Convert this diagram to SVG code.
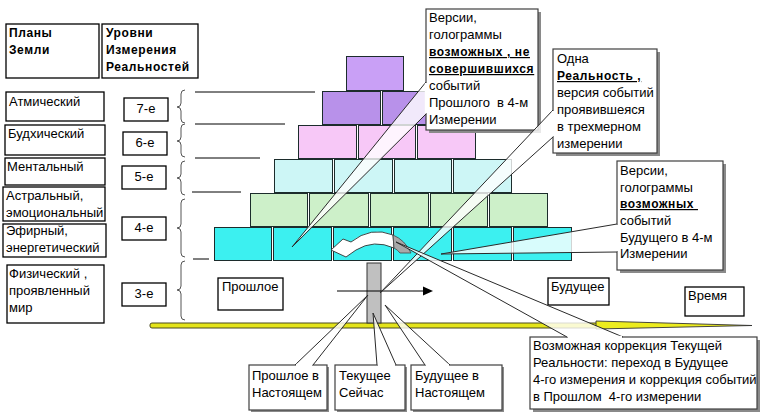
<svg xmlns="http://www.w3.org/2000/svg" width="763" height="415" viewBox="0 0 763 415">
<style>
.t{font-family:"Liberation Sans",Arial,sans-serif;font-size:13px;fill:#000;white-space:pre}
.b{font-weight:bold;font-size:12px;letter-spacing:0.6px}
.u{text-decoration:underline}
.box{fill:#fff;stroke:#000;stroke-width:1.3}
.cb{fill:#fff;stroke:#404040;stroke-width:1.2}
.sh{fill:#8a8a8a}
.wf{fill:#fff;fill-opacity:0.8;stroke:none}
.we{fill:none;stroke:#2a2a2a;stroke-width:1}
.gap{stroke:#fff;stroke-width:2.4}
.brace{fill:none;stroke:#555;stroke-width:1}
.hl{stroke:#000;stroke-width:1}
.blk{stroke:#1c2c2c;stroke-width:1}
.r1{fill:#c9a0f6}.r2{fill:#b891ea}.r3{fill:#f7c8f7}.r4{fill:#cdf6f6}.r5{fill:#cdf0c9}.r6{fill:#3cf0f0}
</style>
<rect width="763" height="415" fill="#fff"/>

<!-- Left column headers -->
<g id="hdr-plans"><rect class="box" x="6" y="24" width="93" height="54"/>
<text class="t b" x="9" y="37">Планы</text><text class="t b" x="9" y="54">Земли</text></g>
<g id="hdr-levels"><rect class="box" x="102" y="24" width="96" height="54"/>
<text class="t b" x="106" y="37">Уровни</text><text class="t b" x="106" y="54">Измерения</text><text class="t b" x="106" y="71">Реальностей</text></g>

<g id="plan-atm"><rect class="box" x="6" y="92" width="98" height="29"/><text class="t" x="9" y="106">Атмический</text></g>
<g id="plan-bud"><rect class="box" x="5" y="125" width="100" height="30"/><text class="t" x="8" y="138">Будхический</text></g>
<g id="plan-men"><rect class="box" x="5" y="158" width="100" height="27"/><text class="t" x="7" y="171">Ментальный</text></g>
<g id="plan-astr"><rect class="box" x="3" y="187" width="102" height="34"/><text class="t" x="6" y="200">Астральный,</text><text class="t" x="6" y="217">эмоциональный</text></g>
<g id="plan-eth"><rect class="box" x="3" y="224" width="103" height="33"/><text class="t" x="6" y="235">Эфирный,</text><text class="t" x="6" y="252">энергетический</text></g>
<g id="plan-phys"><rect class="box" x="7" y="265" width="97" height="58"/><text class="t" x="9" y="278">Физический ,</text><text class="t" x="9" y="295">проявленный</text><text class="t" x="9" y="312">мир</text></g>

<g id="lvl7"><rect class="box" x="124" y="98" width="44" height="23"/><text class="t" x="146" y="112.5" text-anchor="middle">7-е</text></g>
<g id="lvl6"><rect class="box" x="123" y="132" width="44" height="23"/><text class="t" x="145" y="146.5" text-anchor="middle">6-е</text></g>
<g id="lvl5"><rect class="box" x="122" y="166" width="44" height="23"/><text class="t" x="144" y="180.5" text-anchor="middle">5-е</text></g>
<g id="lvl4"><rect class="box" x="122" y="217" width="44" height="23"/><text class="t" x="144" y="231.5" text-anchor="middle">4-е</text></g>
<g id="lvl3"><rect class="box" x="122" y="283" width="44" height="23"/><text class="t" x="144" y="297.5" text-anchor="middle">3-е</text></g>

<!-- braces and level lines -->
<g id="braces">
<path class="brace" d="M185 90 Q181 90 181 94 L181 103 Q181 107 177 107 Q181 107 181 111 L181 119 Q181 123 185 123"/>
<path class="brace" d="M185 124 Q181 124 181 128 L181 137 Q181 141 177 141 Q181 141 181 145 L181 153 Q181 157 185 157"/>
<path class="brace" d="M185 161 Q181 161 181 165 L181 174 Q181 178 177 178 Q181 178 181 182 L181 191 Q181 195 185 195"/>
<path class="brace" d="M185 199 Q181 199 181 203 L181 224 Q181 228 177 228 Q181 228 181 232 L181 253 Q181 257 185 257"/>
<path class="brace" d="M185 261 Q181 261 181 265 L181 286 Q181 290 177 290 Q181 290 181 294 L181 316 Q181 320 185 320"/>
<line class="hl" x1="195" y1="92" x2="315" y2="92"/>
<line class="hl" x1="195" y1="124" x2="285" y2="124"/>
<line class="hl" x1="195" y1="158" x2="260" y2="158"/>
<line class="hl" x1="192" y1="192" x2="241" y2="192"/>
<line class="hl" x1="193" y1="259" x2="209" y2="259"/>
</g>

<!-- time line -->
<g id="timeline">
<rect x="150" y="323" width="448" height="5" rx="2" fill="#e4e41a" stroke="#4a4a20" stroke-width="1"/>
<polygon points="596,321 752,325.5 596,329" fill="#ecec1e" stroke="#333" stroke-width="0.9"/>
</g>

<!-- pyramid -->
<g id="pyramid">
<rect class="blk r1" x="346.5" y="56.5" width="57" height="34"/>
<rect class="blk r2" x="322.5" y="91.5" width="58" height="33"/>
<rect class="blk r2" x="382.5" y="91.5" width="58" height="33"/>
<rect class="blk r3" x="298.5" y="125.5" width="58" height="33"/>
<rect class="blk r3" x="358.5" y="125.5" width="57" height="33"/>
<rect class="blk r3" x="417.5" y="125.5" width="58" height="33"/>
<rect class="blk r4" x="274.5" y="159.5" width="58" height="33"/>
<rect class="blk r4" x="334.5" y="159.5" width="58" height="33"/>
<rect class="blk r4" x="394.5" y="159.5" width="57" height="33"/>
<rect class="blk r4" x="453.5" y="159.5" width="58" height="33"/>
<rect class="blk r5" x="250.5" y="193.5" width="57" height="33"/>
<rect class="blk r5" x="309.5" y="193.5" width="59" height="33"/>
<rect class="blk r5" x="370.5" y="193.5" width="58" height="33"/>
<rect class="blk r5" x="430.5" y="193.5" width="57" height="33"/>
<rect class="blk r5" x="489.5" y="193.5" width="58" height="33"/>
<rect class="blk r6" x="214.5" y="227.5" width="57" height="33"/>
<rect class="blk r6" x="273.5" y="227.5" width="58" height="33"/>
<rect class="blk r6" x="333.5" y="227.5" width="58" height="33"/>
<rect class="blk r6" x="393.5" y="227.5" width="58" height="33"/>
<rect class="blk r6" x="453.5" y="227.5" width="58" height="33"/>
<rect class="blk r6" x="513.5" y="227.5" width="58" height="33"/>
</g>

<!-- present pillar and time arrow -->
<g id="pillar"><rect x="367" y="263" width="14" height="60" fill="#c0c0c0" stroke="#333" stroke-width="1"/></g>
<g id="connectors">
<line x1="337" y1="291" x2="424" y2="291" stroke="#000" stroke-width="1.2"/>
<polygon points="433,291 423,286.5 423,295.5" fill="#000"/>
<path d="M393 235 Q371 226 351 242 L343 239 L331 250 L346 257 L356 250 Q374 239 394 248 Z" fill="#fff" stroke="#333" stroke-width="0.9"/>
<path d="M393 235 Q405 240 411 253 L400 253 Q398 250 394 248 Z" fill="#a8a8a8" stroke="#444" stroke-width="0.8"/>
</g>

<!-- small labels -->
<g id="past"><rect class="box" x="218" y="278" width="65" height="32"/><text class="t" x="222" y="291">Прошлое</text></g>
<g id="future"><rect class="box" x="548" y="278" width="61" height="27"/><text class="t" x="551" y="291">Будущее</text></g>
<g id="time"><rect class="box" x="685" y="287" width="59" height="29"/><text class="t" x="688" y="300">Время</text></g>

<!-- callout 1 -->
<g id="callout-past-versions">
<rect class="sh" x="429" y="12" width="112" height="121"/>
<rect class="cb" x="426" y="9" width="112" height="121"/>
<polygon class="wf" points="426,82 292,247 426,114"/>
<polyline class="we" points="426,82 292,247 426,114"/>
<line class="gap" x1="426" y1="83" x2="426" y2="113"/>
<text class="t" x="429" y="22">Версии,</text>
<text class="t" x="429" y="39">голограммы</text>
<text class="t b u" x="429" y="56">возможных , не</text>
<text class="t b u" x="429" y="73">совершившихся</text>
<text class="t" x="429" y="90">событий</text>
<text class="t" x="429" y="107">Прошлого  в 4-м</text>
<text class="t" x="429" y="124">Измерении</text>
</g>

<!-- callout 2 -->
<g id="callout-reality">
<rect class="sh" x="556" y="52" width="104" height="104"/>
<rect class="cb" x="553" y="49" width="104" height="104"/>
<polygon class="wf" points="553,110 380,293 553,137"/>
<polyline class="we" points="553,110 380,293 553,137"/>
<line class="gap" x1="553" y1="111" x2="553" y2="136"/>
<text class="t" x="557" y="63">Одна</text>
<text class="t b u" x="557" y="80">Реальность ,</text>
<text class="t" x="557" y="97">версия событий</text>
<text class="t" x="557" y="114">проявившеяся</text>
<text class="t" x="557" y="131">в трехмерном</text>
<text class="t" x="557" y="148">измерении</text>
</g>

<!-- callout 3 -->
<g id="callout-future-versions">
<rect class="sh" x="620" y="164" width="106" height="109"/>
<rect class="cb" x="617" y="161" width="106" height="109"/>
<polygon class="wf" points="617,224 441,254 617,252"/>
<polyline class="we" points="617,224 441,254 617,252"/>
<line class="gap" x1="617" y1="225" x2="617" y2="251"/>
<text class="t" x="620" y="175">Версии,</text>
<text class="t" x="620" y="192">голограммы</text>
<text class="t b u" x="620" y="208">возможных </text>
<text class="t" x="620" y="225">событий</text>
<text class="t" x="620" y="242">Будущего в 4-м</text>
<text class="t" x="620" y="258">Измерении</text>
</g>

<!-- callout 4 -->
<g id="callout-correction">
<rect class="sh" x="533" y="340" width="227" height="72"/>
<rect class="cb" x="530" y="337" width="227" height="72"/>
<polygon class="wf" points="567,337 396,242 623,337"/>
<polyline class="we" points="567,337 396,242 623,337"/>
<line class="gap" x1="568" y1="337" x2="622" y2="337"/>
<text class="t" x="533" y="350">Возможная коррекция Текущей</text>
<text class="t" x="533" y="367">Реальности: переход в Будущее</text>
<text class="t" x="533" y="384">4-го измерения и коррекция событий</text>
<text class="t" x="533" y="401">в Прошлом  4-го измерении</text>
</g>

<!-- bottom callouts -->
<g id="callout-past-present">
<rect class="sh" x="251" y="367" width="78" height="45"/>
<rect class="cb" x="249" y="365" width="78" height="45"/>
<polygon class="wf" points="295,365 368,295 313,365"/>
<polyline class="we" points="295,365 368,295 313,365"/>
<line class="gap" x1="296" y1="365" x2="312" y2="365"/>
<text class="t" x="252" y="380">Прошлое в</text>
<text class="t" x="252" y="397">Настоящем</text>
</g>
<g id="callout-now">
<rect class="sh" x="337" y="367" width="70" height="45"/>
<rect class="cb" x="335" y="365" width="70" height="45"/>
<polygon class="wf" points="377,365 373,313 396,365"/>
<polyline class="we" points="377,365 373,313 396,365"/>
<line class="gap" x1="378" y1="365" x2="395" y2="365"/>
<text class="t" x="339" y="380">Текущее</text>
<text class="t" x="339" y="397">Сейчас</text>
</g>
<g id="callout-future-present">
<rect class="sh" x="413" y="367" width="91" height="45"/>
<rect class="cb" x="411" y="365" width="91" height="45"/>
<polygon class="wf" points="425,365 385,305 450,365"/>
<polyline class="we" points="425,365 385,305 450,365"/>
<line class="gap" x1="426" y1="365" x2="449" y2="365"/>
<text class="t" x="415" y="380">Будущее в</text>
<text class="t" x="415" y="397">Настоящем</text>
</g>
</svg>
